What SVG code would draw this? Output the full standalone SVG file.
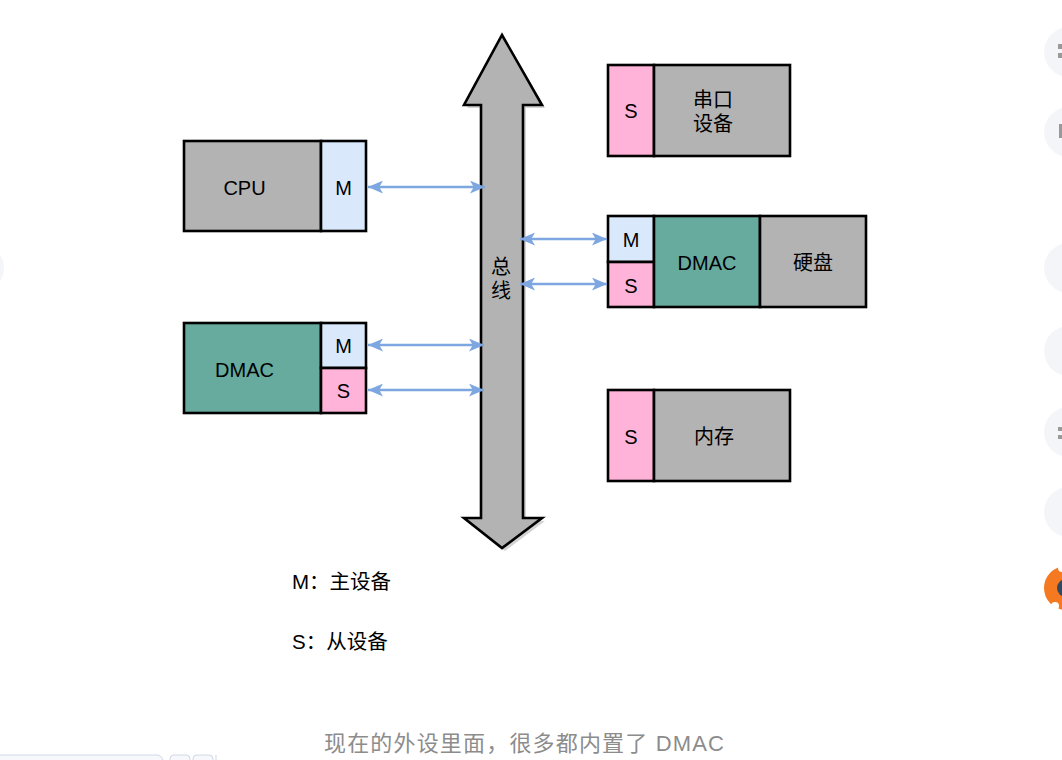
<svg xmlns="http://www.w3.org/2000/svg" width="1062" height="760" viewBox="0 0 1062 760">
<defs>
<style>
.box{stroke:#000;stroke-width:2.6}
.gray{fill:#b3b3b3}
.m{fill:#dae8fc}
.s{fill:#ffb3d9}
.dmac{fill:#67ab9f}
.t{font-family:"Liberation Sans","Noto Sans CJK SC",sans-serif;font-size:20px;fill:#000}
.c{text-anchor:middle}
.conn{stroke:#7ea6e0;stroke-width:2.4;fill:none;marker-start:url(#ah);marker-end:url(#ah)}
.ui{fill:#f4f5f8}
</style>
<marker id="ah" viewBox="0 0 14 12" refX="14" refY="6" markerWidth="15" markerHeight="13" markerUnits="userSpaceOnUse" orient="auto-start-reverse">
<path d="M0,0 L14,6 L0,12 L3.5,6 Z" fill="#7ea6e0"/>
</marker>
</defs>
<rect width="1062" height="760" fill="#fff"/>

<!-- page UI fragments -->
<g id="ui-artifacts">
<circle class="ui" cx="1069" cy="52" r="25"/>
<circle class="ui" cx="1069" cy="132" r="25"/>
<circle class="ui" cx="1069" cy="268" r="25"/>
<circle class="ui" cx="1069" cy="351" r="25"/>
<circle class="ui" cx="1069" cy="432" r="25"/>
<circle class="ui" cx="1069" cy="512" r="25"/>
<circle class="ui" cx="-21" cy="268" r="25"/>
<rect x="1058" y="44" width="4" height="5" fill="#999"/>
<rect x="1058" y="53" width="4" height="5" fill="#999"/>
<rect x="1059" y="124" width="3" height="14" fill="#999"/>
<rect x="1058" y="427" width="4" height="4" fill="#999"/>
<rect x="1058" y="435" width="4" height="4" fill="#999"/>
<circle cx="1066" cy="588" r="22" fill="#f47920"/>
<circle cx="1066" cy="588" r="9" fill="#34495e"/>
<circle cx="1055" cy="606" r="4" fill="#fff"/>
<circle cx="1062" cy="568" r="4" fill="#fff"/>
<rect x="-10" y="755" width="173" height="14" rx="6" fill="#f6f8fc" stroke="#cfd7e6" stroke-width="1"/>
<rect x="170" y="755" width="20" height="14" rx="4" fill="#f6f8fc" stroke="#cfd7e6" stroke-width="1"/>
<rect x="193" y="755" width="20" height="14" rx="4" fill="#f6f8fc" stroke="#cfd7e6" stroke-width="1"/>
<line x1="216" y1="755" x2="216" y2="760" stroke="#cfd7e6"/>
</g>

<!-- bus -->
<g id="bus">
<polygon points="505,38 545,108 526,108 526,521 545,521 505,551 467,521 484,521 484,108 467,108" fill="#c9c9c9" opacity="0.8"/>
<polygon points="502,35 542,105 523,105 523,518 542,518 502,548 464,518 481,518 481,105 464,105" class="gray" stroke="#000" stroke-width="2.6" stroke-linejoin="miter"/>
<text class="t c" x="501" y="274">总</text>
<text class="t c" x="501" y="298">线</text>
</g>

<g id="cpu">
<rect class="box gray" x="184" y="141" width="137" height="90"/>
<rect class="box m" x="321" y="141" width="45" height="90"/>
<text class="t c" x="244.5" y="195">CPU</text>
<text class="t c" x="343.5" y="195">M</text>
</g>

<g id="dmac-left">
<rect class="box dmac" x="184" y="323" width="137" height="90"/>
<rect class="box m" x="321" y="323" width="45" height="45"/>
<rect class="box s" x="321" y="368" width="45" height="45"/>
<text class="t c" x="244.5" y="377">DMAC</text>
<text class="t c" x="343.5" y="353">M</text>
<text class="t c" x="343.5" y="398">S</text>
</g>

<g id="serial">
<rect class="box s" x="608" y="65" width="46" height="91"/>
<rect class="box gray" x="654" y="65" width="136" height="91"/>
<text class="t c" x="631" y="118">S</text>
<text class="t c" x="713" y="107">串口</text>
<text class="t c" x="713" y="131">设备</text>
</g>

<g id="disk">
<rect class="box m" x="608" y="216" width="46" height="46"/>
<rect class="box s" x="608" y="262" width="46" height="45"/>
<rect class="box dmac" x="654" y="216" width="106" height="91"/>
<rect class="box gray" x="760" y="216" width="106" height="91"/>
<text class="t c" x="631" y="247">M</text>
<text class="t c" x="631" y="293">S</text>
<text class="t c" x="707" y="270">DMAC</text>
<text class="t c" x="813" y="270">硬盘</text>
</g>

<g id="memory">
<rect class="box s" x="608" y="390" width="46" height="91"/>
<rect class="box gray" x="654" y="390" width="136" height="91"/>
<text class="t c" x="631" y="444">S</text>
<text class="t c" x="714" y="444">内存</text>
</g>

<g id="connectors">
<path class="conn" d="M368,187 L485,187"/>
<path class="conn" d="M368,345 L484,345"/>
<path class="conn" d="M368,390 L484,390"/>
<path class="conn" d="M520,239 L607,239"/>
<path class="conn" d="M520,284 L607,284"/>
</g>

<g id="legend">
<text class="t" x="292" y="589" style="font-size:20.5px">M：主设备</text>
<text class="t" x="292" y="649" style="font-size:20.5px">S：从设备</text>
</g>

<text x="324" y="751" textLength="400" lengthAdjust="spacing" style="font-family:'Liberation Sans','Noto Sans CJK SC',sans-serif;font-size:22px;fill:#8c8c8c">现在的外设里面，很多都内置了 DMAC</text>
</svg>
